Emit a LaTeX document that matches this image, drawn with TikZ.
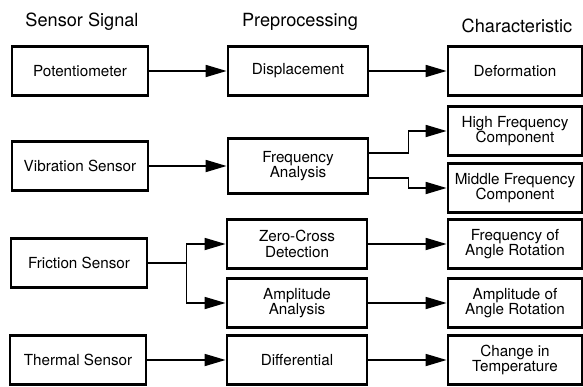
\documentclass[tikz,border=0pt]{standalone}
\usepackage{fontspec}
\setmainfont{TeX Gyre Heros}
\usetikzlibrary{arrows.meta}

\begin{document}
\begin{tikzpicture}[x = 0.03cm, y = -0.03cm,
        box/.style={rectangle, draw, line width=2.4pt, align=center, inner sep=0pt, minimum height=1.45cm, font=\fontsize{13}{13}\selectfont},
        sensor/.style={box, minimum width=4.08cm},
        prep/.style={box, minimum width=4.2cm},
        charac/.style={box, minimum width=4.02cm},
        heading/.style={font=\fontsize{15.5}{16}\selectfont},
        flow/.style={line width=1.5pt, -{Triangle[length=6.3mm, width=3.6mm]}}]
        \useasboundingbox (0, 0) rectangle (583, 386);

        \node[heading] at (82, 22) (hsensor) {Sensor Signal};
        \node[heading] at (300, 22) (hprep) {Preprocessing};
        \node[heading] at (517, 26) (hchar) {Characteristic};

        \node[sensor] at (80, 71) (pot) {Potentiometer};
        \node[sensor] at (80, 166) (vib) {Vibration Sensor};
        \node[sensor] at (79, 263) (fric) {Friction Sensor};
        \node[sensor] at (78, 360) (therm) {Thermal Sensor};

        \node[prep] at (298, 71) (disp) {Displacement};
        \node[prep, minimum height=1.66cm] at (298, 166) (freq) {Frequency\\Analysis};
        \node[prep] at (297, 244) (zero) {Zero-Cross\\Detection};
        \node[prep] at (297, 303) (ampl) {Amplitude\\Analysis};
        \node[prep] at (297, 360) (diff) {Differential};

        \node[charac] at (515, 71) (deform) {Deformation};
        \node[charac] at (515, 131) (high) {High Frequency\\Component};
        \node[charac] at (515, 188) (middle) {Middle Frequency\\Component};
        \node[charac] at (515, 244) (freqrot) {Frequency of\\Angle Rotation};
        \node[charac] at (515, 303) (amplrot) {Amplitude of\\Angle Rotation};
        \node[charac] at (515, 360) (temp) {Change in\\Temperature};

        \draw[flow] (pot) -- (disp);
        \draw[flow] (disp) -- (deform);
        \draw[flow] (vib) -- (freq);
        \draw[flow] ([yshift=3.8mm]freq.east) -- ++(39, 0) |- (high);
        \draw[flow] ([yshift=-3.6mm]freq.east) -- ++(39, 0) |- (middle);
        \draw[line width=1.5pt] (fric.east) -- ++(38, 0) coordinate (split);
        \draw[flow] (split) |- (zero);
        \draw[flow] (split) |- (ampl);
        \draw[flow] (zero) -- (freqrot);
        \draw[flow] (ampl) -- (amplrot);
        \draw[flow] (therm) -- (diff);
        \draw[flow] (diff) -- (temp);
\end{tikzpicture}
\end{document}
